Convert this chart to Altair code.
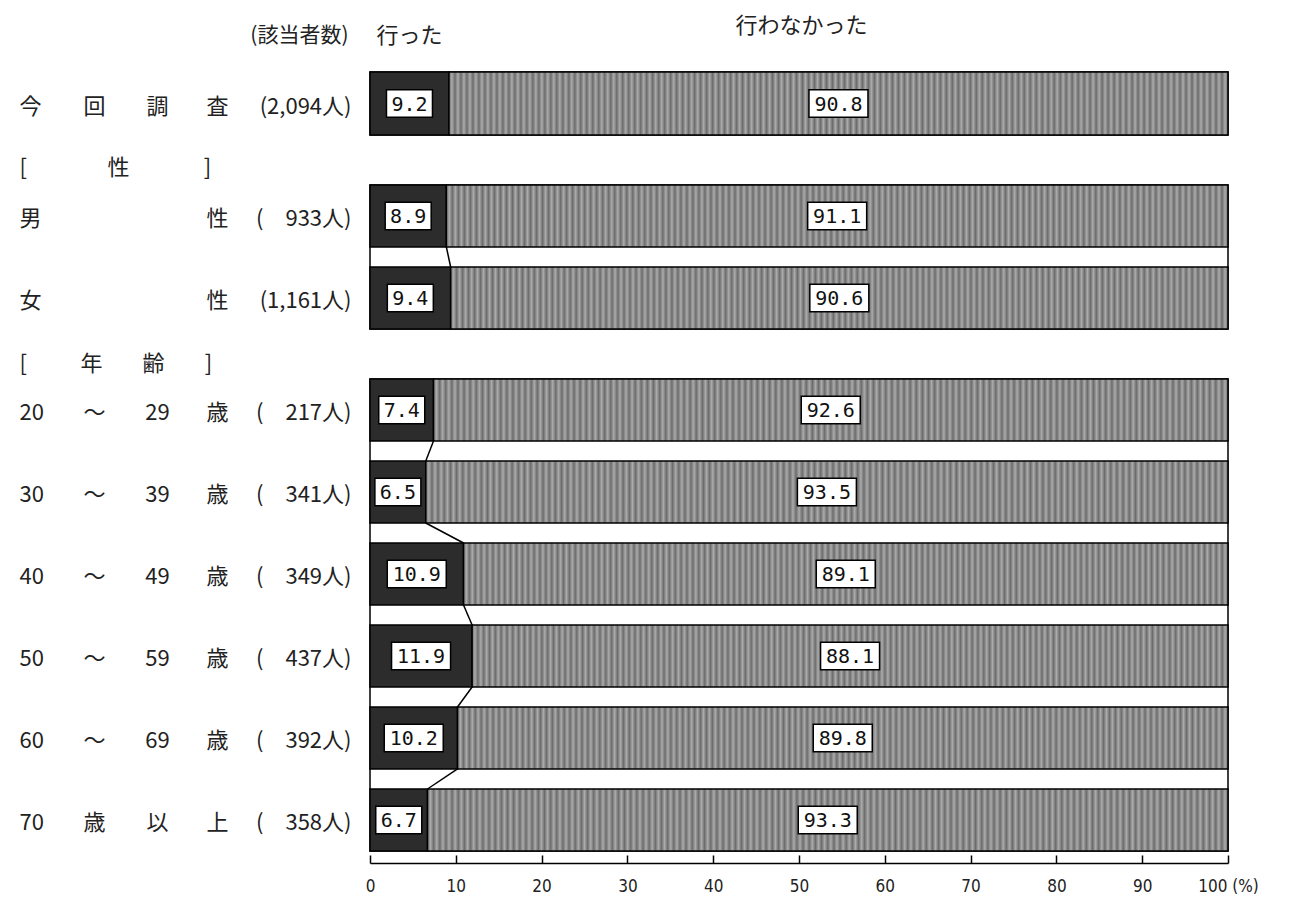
import altair as alt
import pandas as pd

FONT = "Noto Sans CJK JP"
MONO = "DejaVu Sans Mono"

# ---- data ----
col1 = ["今", "男", "女", "20", "30", "40", "50", "60", "70"]
col2 = ["回", "", "", "〜", "〜", "〜", "〜", "〜", "歳"]
col3 = ["調", "", "", "29", "39", "49", "59", "69", "以"]
col4 = ["査", "性", "性", "歳", "歳", "歳", "歳", "歳", "上"]
counts = ["2,094", "933", "1,161", "217", "341", "349", "437", "392", "358"]
did = [9.2, 8.9, 9.4, 7.4, 6.5, 10.9, 11.9, 10.2, 6.7]
did_not = [90.8, 91.1, 90.6, 92.6, 93.5, 89.1, 88.1, 89.8, 93.3]
group = [0, 1, 1, 2, 2, 2, 2, 2, 2]
series_names = ["行った", "行わなかった"]
count_header = "(該当者数)"
group_headers = {1: ["[", "性", "]"], 2: ["[", "年", "齢", "]"]}
x_ticks = [0, 10, 20, 30, 40, 50, 60, 70, 80, 90, 100]

keys = []
for i in range(len(col1)):
    pad = "" if "," in counts[i] else "\u3000"
    keys.append("|".join([col1[i], col2[i], col3[i], col4[i], "(" + pad + counts[i] + "人)"]))

df = pd.DataFrame({"key": keys, "did": did, "didnot": did_not, "group": group})
df["end"] = df["did"] + df["didnot"]

lab_rows = []
for _, r in df.iterrows():
    lab_rows.append({"key": r.key, "group": r.group, "mid": r.did / 2, "lab": f"{r.did:.1f}"})
    lab_rows.append({"key": r.key, "group": r.group, "mid": r.did + r.didnot / 2, "lab": f"{r.didnot:.1f}"})
dl = pd.DataFrame(lab_rows)

con_rows = []
for g in [1, 2]:
    d = df[df.group == g].reset_index(drop=True)
    for i in range(len(d) - 1):
        con_rows.append({"group": g, "k1": d.key[i], "k2": d.key[i + 1],
                         "x1": d.did[i], "x2": d.did[i + 1]})
dc = pd.DataFrame(con_rows)

# ---- styles ----
W = 858
STEP = 82
PAD_IN = 0.244
pads = [351, 276, 213, 153, 19]
aligns = ["left", "center", "center", "center", "right"]

stripe_stops = []
N = 260
for i in range(N + 1):
    stripe_stops.append(alt.GradientStop(offset=i / N, color="#6c6c6c" if i % 2 == 0 else "#ababab"))
stripes = alt.LinearGradient(gradient="linear", stops=stripe_stops, x1=0, x2=1, y1=0, y2=0)

path3 = "M-1,-0.6H1V0.6H-1Z"
path4 = "M-1,-0.47H1V0.47H-1Z"

xsc = alt.Scale(domain=[0, 100], nice=False)


def col_axis(j, head=None):
    kw = dict(orient="left", domain=False, ticks=False, tickSize=0, grid=False,
              labelPadding=pads[j], labelAlign=aligns[j],
              labelExpr=f"split(datum.label, '|')[{j}]",
              labelFont=FONT, labelFontSize=22, labelColor="#222", labelLimit=0,
              labelOffset=3)
    if head is None:
        kw["title"] = None
    else:
        text, tx, ty, ta, fs = head
        kw.update(title=text, titleAngle=0, titleX=tx, titleY=ty, titleAlign=ta,
                  titleBaseline="middle", titleFont=FONT, titleFontSize=fs,
                  titleFontWeight="normal", titleColor="#222")
    return alt.Axis(**kw)


def panel(g, heads, xaxis=False):
    d = df[df.group == g]
    ks = list(d.key)
    ysc = alt.Scale(domain=ks, paddingInner=PAD_IN, paddingOuter=0)

    def Y(axis=None, **kw):
        return alt.Y("key:N", scale=ysc, axis=axis, **kw)

    layers = []
    tick_axis = None
    lab_axis = None
    if xaxis:
        tick_axis = alt.Axis(orient="bottom", offset=4, tickSize=8, tickWidth=1.5,
                             tickColor="black", domain=False, labels=False, grid=False,
                             title=None, values=x_ticks)
        lab_axis = alt.Axis(orient="bottom", offset=12, domain=True, domainColor="black",
                            domainWidth=1.5, ticks=False, labelPadding=16, grid=False,
                            title=None, values=x_ticks, labelFont="DejaVu Sans Condensed",
                            labelFontSize=17, labelColor="#222", labelFlush=False,
                            labelOverlap=False,
                            labelExpr="datum.value == 100 ? '\u2007\u2007\u2007\u2007\u2007100 (%)' : datum.label")

    layers.append(alt.Chart(d).mark_bar(fill="#2c2c2c", stroke="black", strokeWidth=1.5).encode(
        x=alt.X("did:Q", scale=xsc, axis=tick_axis), y=Y()))
    layers.append(alt.Chart(d).mark_bar(fill=stripes, stroke="black", strokeWidth=1.5).encode(
        x=alt.X("did:Q", scale=xsc, axis=lab_axis), x2="end:Q", y=Y()))

    dlg = dl[dl.group == g]
    layers.append(alt.Chart(dlg).mark_point(filled=True, fill="white", stroke="black",
                                            strokeWidth=1.5, opacity=1).encode(
        x=alt.X("mid:Q", scale=xsc, axis=None), y=Y(),
        shape=alt.condition("length(datum.lab) > 3", alt.value(path4), alt.value(path3)),
        size=alt.condition("length(datum.lab) > 3", alt.value(3481), alt.value(2116))))
    layers.append(alt.Chart(dlg).mark_text(font=MONO, fontSize=20, color="#111",
                                           baseline="middle", align="center", dy=1).encode(
        x=alt.X("mid:Q", scale=xsc, axis=None), y=Y(), text="lab:N"))

    if g in (1, 2):
        dcg = dc[dc.group == g]
        layers.append(alt.Chart(dcg).mark_rule(color="black", strokeWidth=1.5).encode(
            x=alt.X("x1:Q", scale=xsc, axis=None), x2="x2:Q",
            y=alt.Y("k1:N", scale=ysc, axis=None, bandPosition=1),
            y2=alt.Y2("k2", bandPosition=0)))

    for j in range(5):
        layers.append(alt.Chart(d).mark_point(opacity=0).encode(
            y=Y(axis=col_axis(j, heads.get(j)))))

    ch = alt.layer(*layers).resolve_scale(y="shared", x="shared").resolve_axis(
        y="independent", x="independent")
    return ch


p1 = panel(0, {
    4: (count_header, -22, -37, "right", 21),
    3: (series_names[0], 6, -37, "left", 22),
    2: (series_names[1], 431, -47, "center", 22),
}).properties(width=W, height=63)

h1 = group_headers[1]
p2 = panel(1, {
    0: (h1[0], -351, -18, "left", 22),
    1: (h1[1], -252, -18, "center", 22),
    3: (h1[2], -163, -18, "center", 22),
}).properties(width=W, height=alt.Step(STEP))

h2 = group_headers[2]
p3 = panel(2, {
    0: (h2[0], -351, -16, "left", 22),
    1: (h2[1], -279, -16, "center", 22),
    2: (h2[2], -217, -16, "center", 22),
    3: (h2[3], -162, -16, "center", 22),
}, xaxis=True).properties(width=W, height=alt.Step(STEP))

chart = alt.vconcat(p1, p2, p3, spacing=50, bounds="flush").resolve_scale(
    y="independent").configure_view(stroke="black", strokeWidth=1.5).properties(
    padding={"left": 10, "top": 5, "right": 5, "bottom": 5}, background="white")

chart.save("out.html", embed_options={"renderer": "svg", "actions": False})
